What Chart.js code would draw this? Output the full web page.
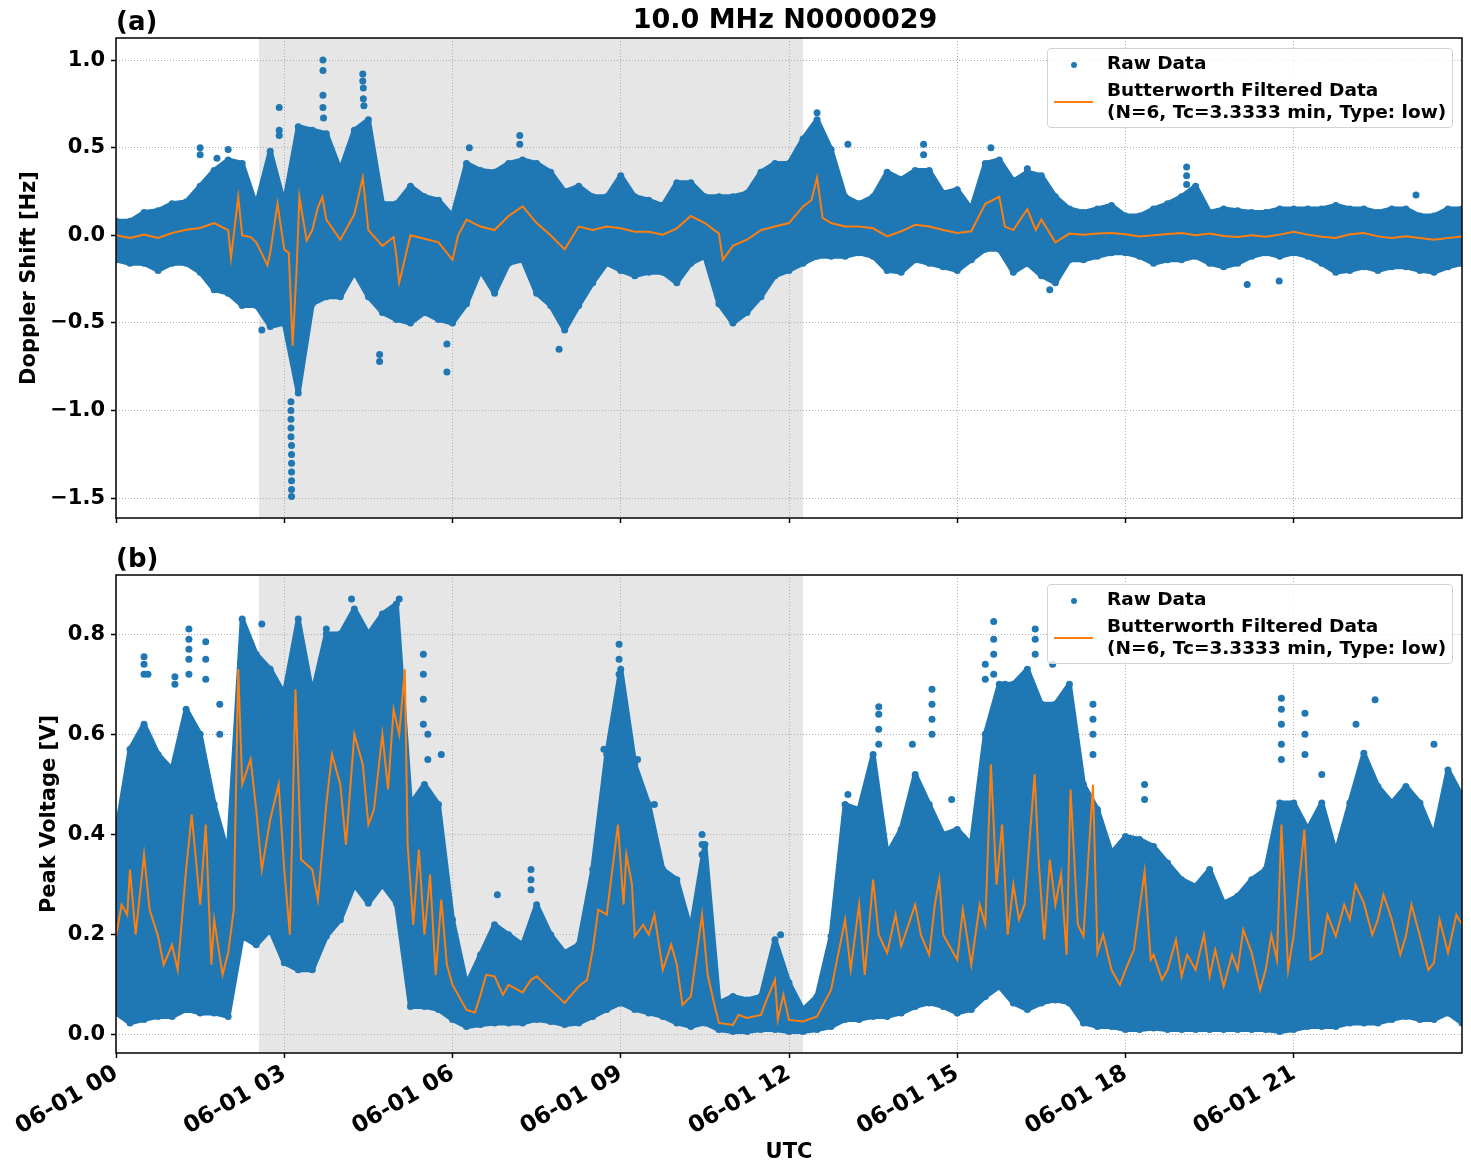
<!DOCTYPE html>
<html>
<head>
<meta charset="utf-8">
<script src="https://cdn.jsdelivr.net/npm/chart.js@4.4.1/dist/chart.umd.min.js"></script>
<style>
  body { margin: 0; background: #fff; width: 1471px; height: 1172px; position: relative; overflow: hidden;
         font-family: 'DejaVu Sans', sans-serif; }
  canvas { position: absolute; left: 0; }
  #chartA { top: 0; }
  #chartB { top: 545px; }
  .legend { position: absolute; left: 1047px; width: 404px; height: 78px; border: 1px solid #d3d3d3;
            border-radius: 4px; background: rgba(255,255,255,0.8); font: bold 18.5px 'DejaVu Sans', sans-serif;
            color: #000; line-height: 22px; }
  .legend .dot { position: absolute; left: 23px; top: 13px; width: 6px; height: 6px; border-radius: 50%; background: #1f77b4; }
  .legend .line { position: absolute; left: 6px; top: 52px; width: 39px; height: 2px; background: #ff7f0e; }
  .legend .t1 { position: absolute; left: 59px; top: 3px; white-space: nowrap; }
  .legend .t2 { position: absolute; left: 59px; top: 30px; white-space: nowrap; }
</style>
</head>
<body>
<canvas id="chartA" width="1471" height="545"></canvas>
<canvas id="chartB" width="1471" height="627"></canvas>

<div class="legend" style="top:48px">
  <div class="dot"></div><div class="t1">Raw Data</div>
  <div class="line"></div><div class="t2">Butterworth Filtered Data<br>(N=6, Tc=3.3333 min, Type: low)</div>
</div>
<div class="legend" style="top:584px">
  <div class="dot"></div><div class="t1">Raw Data</div>
  <div class="line"></div><div class="t2">Butterworth Filtered Data<br>(N=6, Tc=3.3333 min, Type: low)</div>
</div>

<script>
// time axis, hours after 06-01 00 UTC
const xTickHours = [0, 3, 6, 9, 12, 15, 18, 21];
const xTickLabels = ['06-01 00', '06-01 03', '06-01 06', '06-01 09', '06-01 12', '06-01 15', '06-01 18', '06-01 21'];
const shadeStart = 2.55;
const shadeEnd = 12.25;

// 15 min bins for the raw data envelope
const binHours = [
  0,0.25,0.5,0.75,1,1.25,1.5,1.75,2,2.25,2.5,2.75,3,3.25,3.5,3.75,
  4,4.25,4.5,4.75,5,5.25,5.5,5.75,6,6.25,6.5,6.75,7,7.25,7.5,7.75,
  8,8.25,8.5,8.75,9,9.25,9.5,9.75,10,10.25,10.5,10.75,11,11.25,11.5,11.75,
  12,12.25,12.5,12.75,13,13.25,13.5,13.75,14,14.25,14.5,14.75,15,15.25,15.5,15.75,
  16,16.25,16.5,16.75,17,17.25,17.5,17.75,18,18.25,18.5,18.75,19,19.25,19.5,19.75,
  20,20.25,20.5,20.75,21,21.25,21.5,21.75,22,22.25,22.5,22.75,23,23.25,23.5,23.75,24
];

// (a) Doppler shift [Hz]
const dopplerUpper = [
  0.08,0.08,0.13,0.14,0.18,0.19,0.28,0.37,0.43,0.41,0.17,0.48,0.18,0.62,0.60,0.58,
  0.37,0.60,0.66,0.18,0.18,0.28,0.22,0.20,0.11,0.41,0.37,0.36,0.41,0.43,0.41,0.36,
  0.25,0.28,0.22,0.22,0.34,0.22,0.20,0.17,0.30,0.30,0.22,0.22,0.22,0.24,0.36,0.41,
  0.41,0.55,0.66,0.49,0.22,0.18,0.22,0.36,0.32,0.37,0.37,0.24,0.26,0.15,0.41,0.43,
  0.31,0.36,0.34,0.22,0.15,0.13,0.15,0.17,0.11,0.11,0.15,0.18,0.22,0.28,0.13,0.15,
  0.14,0.13,0.13,0.15,0.15,0.15,0.15,0.17,0.15,0.15,0.13,0.15,0.15,0.11,0.11,0.15,0.15
];
const dopplerLower = [
  -0.14,-0.16,-0.16,-0.20,-0.16,-0.16,-0.21,-0.31,-0.33,-0.40,-0.40,-0.52,-0.50,-0.90,-0.39,-0.35,
  -0.35,-0.21,-0.35,-0.44,-0.48,-0.50,-0.44,-0.48,-0.50,-0.39,-0.20,-0.33,-0.16,-0.14,-0.33,-0.40,
  -0.54,-0.40,-0.27,-0.16,-0.20,-0.23,-0.21,-0.21,-0.27,-0.16,-0.12,-0.39,-0.50,-0.44,-0.35,-0.23,
  -0.20,-0.16,-0.12,-0.12,-0.12,-0.10,-0.12,-0.20,-0.21,-0.14,-0.16,-0.18,-0.20,-0.14,-0.08,-0.08,
  -0.21,-0.16,-0.23,-0.27,-0.14,-0.14,-0.12,-0.10,-0.10,-0.12,-0.16,-0.14,-0.14,-0.12,-0.16,-0.18,
  -0.16,-0.12,-0.10,-0.12,-0.10,-0.12,-0.16,-0.21,-0.20,-0.18,-0.20,-0.18,-0.18,-0.20,-0.21,-0.18,-0.16
];
const dopplerOutHours = [
  3.12,3.12,3.12,3.12,3.12,3.13,3.13,3.13,3.13,3.13,3.13,3.13,
  2.91,2.91,2.91, 3.69,3.69,3.69,3.69,3.70, 4.40,4.40,4.41,4.41,4.42,
  1.5,1.5, 1.8, 2.0, 2.6, 4.7,4.7, 5.9,5.9, 6.3, 7.2,7.2, 7.9, 12.5, 13.05,
  14.4,14.4, 15.6, 16.25, 19.09,19.09,19.09, 20.17, 20.74, 16.65, 23.18
];
const dopplerOutValues = [
  -0.95,-1.0,-1.05,-1.1,-1.15,-1.2,-1.25,-1.3,-1.35,-1.4,-1.45,-1.49,
  0.73,0.6,0.57, 1.0,0.94,0.8,0.73,0.67, 0.92,0.88,0.84,0.78,0.74,
  0.5,0.46, 0.44, 0.49, -0.54, -0.72,-0.68, -0.78,-0.62, 0.5, 0.57,0.52, -0.65, 0.7, 0.52,
  0.52,0.46, 0.5, 0.38, 0.39,0.34,0.29, -0.28, -0.26, -0.31, 0.23
];
const dopplerFiltHours = [
  0,0.25,0.5,0.75,1,1.25,1.5,1.75,2,2.05,
  2.18,2.25,2.4,2.5,2.7,2.75,2.88,3,3.08,3.15,
  3.22,3.27,3.4,3.5,3.6,3.68,3.75,4,4.25,4.4,
  4.5,4.75,4.95,5,5.05,5.25,5.5,5.75,6,6.1,
  6.25,6.5,6.75,7,7.25,7.5,7.75,8,8.25,8.5,
  8.75,9,9.25,9.5,9.75,10,10.25,10.5,10.75,10.82,
  11,11.25,11.5,11.75,12,12.25,12.4,12.5,12.6,12.75,
  13,13.25,13.5,13.75,14,14.25,14.5,14.75,15,15.25,
  15.5,15.75,15.85,16,16.25,16.4,16.5,16.75,17,17.25,
  17.5,17.75,18,18.25,18.5,18.75,19,19.25,19.5,19.75,
  20,20.25,20.5,20.75,21,21.25,21.5,21.75,22,22.25,
  22.5,22.75,23,23.25,23.5,23.75,24
];
const dopplerFilt = [
  0,-0.015,0.004,-0.015,0.013,0.032,0.042,0.07,0.03,-0.13,
  0.22,0,-0.01,-0.04,-0.17,-0.1,0.18,-0.08,-0.1,-0.63,
  -0.2,0.22,-0.03,0.03,0.16,0.22,0.09,-0.025,0.12,0.33,
  0.03,-0.06,-0.01,-0.12,-0.27,0,-0.02,-0.04,-0.14,0,
  0.09,0.05,0.03,0.11,0.165,0.07,0,-0.08,0.05,0.03,
  0.05,0.04,0.02,0.02,0.004,0.04,0.11,0.07,0.01,-0.14,
  -0.06,-0.025,0.03,0.05,0.07,0.165,0.2,0.33,0.1,0.07,
  0.05,0.05,0.04,-0.006,0.023,0.06,0.05,0.03,0.013,0.023,
  0.18,0.22,0.05,0.03,0.15,0.03,0.09,-0.04,0.01,0.004,
  0.01,0.013,0.006,-0.006,0,0.008,0.013,0,0.01,-0.004,
  -0.01,0,-0.008,0.004,0.02,0.004,-0.008,-0.015,0.006,0.013,
  -0.006,-0.015,-0.006,-0.015,-0.025,-0.015,-0.006
];
const dopplerTicks = [-1.5, -1.0, -0.5, 0.0, 0.5, 1.0];

// (b) Peak voltage [V]
const voltUpper = [
  0.40,0.57,0.62,0.56,0.53,0.65,0.60,0.46,0.36,0.83,0.76,0.73,0.68,0.83,0.68,0.80,
  0.80,0.85,0.80,0.84,0.86,0.46,0.50,0.46,0.23,0.10,0.16,0.22,0.20,0.18,0.26,0.20,
  0.164,0.18,0.33,0.56,0.73,0.54,0.46,0.33,0.31,0.21,0.38,0.064,0.077,0.07,0.077,0.19,
  0.104,0.05,0.077,0.197,0.46,0.45,0.56,0.36,0.41,0.52,0.46,0.40,0.41,0.38,0.60,0.70,
  0.70,0.73,0.66,0.66,0.70,0.50,0.45,0.363,0.396,0.39,0.376,0.343,0.31,0.297,0.33,0.263,
  0.277,0.31,0.33,0.463,0.463,0.41,0.463,0.363,0.463,0.562,0.496,0.463,0.496,0.463,0.396,0.529,0.476
];
const voltLower = [
  0.044,0.024,0.031,0.037,0.037,0.051,0.044,0.044,0.037,0.197,0.18,0.21,0.144,0.13,0.13,0.197,
  0.23,0.30,0.263,0.30,0.263,0.057,0.057,0.051,0.031,0.017,0.021,0.024,0.024,0.024,0.031,0.027,
  0.021,0.024,0.037,0.051,0.064,0.051,0.044,0.037,0.024,0.017,0.024,0.011,0.007,0.007,0.011,0.011,
  0.007,0.007,0.011,0.017,0.031,0.031,0.037,0.037,0.044,0.057,0.064,0.057,0.044,0.051,0.077,0.097,
  0.064,0.051,0.064,0.07,0.064,0.024,0.017,0.017,0.011,0.011,0.014,0.011,0.011,0.011,0.011,0.011,
  0.011,0.011,0.011,0.007,0.011,0.017,0.017,0.017,0.024,0.024,0.024,0.031,0.037,0.031,0.031,0.044,0.024
];
const voltOutHours = [
  0.5,0.5,0.5, 0.57, 1.05,1.05, 1.3,1.3,1.3,1.3,1.3, 1.6,1.6,1.6, 1.85,1.85, 2.3, 2.6, 3.0, 3.75,
  4.2, 4.55, 5.05, 5.48,5.48,5.48,5.48, 5.56,5.56, 5.8, 6.8, 7.4,7.4,7.4, 8.7, 8.97,8.97,8.97,8.97,
  9.05, 9.3, 9.6, 10.45,10.45,10.45, 11.85, 13.05, 13.6,13.6,13.6,13.6, 14.2, 14.55,14.55,14.55,14.55,
  14.9, 15.5,15.5, 15.65,15.65,15.65,15.65, 15.85, 16.39,16.39,16.39, 16.7, 17.42,17.42,17.42,17.42,
  18.34,18.34, 20.78,20.78,20.78,20.78,20.78, 21.2,21.2,21.2, 21.5, 22.11, 22.45, 23.5, 23.9
];
const voltOutValues = [
  0.755,0.74,0.72, 0.72, 0.715,0.70, 0.81,0.79,0.77,0.75,0.72, 0.785,0.75,0.71, 0.66,0.6, 0.79, 0.82, 0.67, 0.81,
  0.87, 0.78, 0.87, 0.76,0.72,0.67,0.62, 0.6,0.55, 0.56, 0.28, 0.33,0.31,0.29, 0.57, 0.78,0.75,0.72,0.69,
  0.63, 0.55, 0.46, 0.40,0.38,0.36, 0.2, 0.48, 0.655,0.64,0.61,0.58, 0.58, 0.69,0.66,0.63,0.6,
  0.47, 0.74,0.71, 0.825,0.79,0.76,0.72, 0.7, 0.81,0.79,0.76, 0.74, 0.66,0.63,0.6,0.56,
  0.5,0.47, 0.672,0.65,0.62,0.58,0.55, 0.642,0.6,0.56, 0.52, 0.62, 0.669, 0.58, 0.48
];
const voltFiltHours = [
  0,0.1,0.2,0.25,0.35,0.5,0.6,0.75,0.85,1,
  1.1,1.25,1.35,1.5,1.6,1.7,1.75,1.9,2,2.1,
  2.18,2.25,2.4,2.5,2.6,2.75,2.9,3,3.1,3.2,
  3.3,3.5,3.6,3.75,3.85,4,4.1,4.25,4.4,4.5,
  4.6,4.75,4.85,4.95,5.05,5.15,5.2,5.3,5.4,5.5,
  5.6,5.7,5.8,5.9,6,6.1,6.25,6.4,6.5,6.6,
  6.75,6.9,7,7.25,7.4,7.5,7.75,8,8.25,8.4,
  8.5,8.6,8.75,8.85,8.95,9.05,9.1,9.2,9.25,9.4,
  9.5,9.6,9.75,9.9,10,10.1,10.25,10.45,10.55,10.65,
  10.75,11,11.1,11.25,11.5,11.6,11.75,11.8,11.9,12,
  12.25,12.5,12.75,13,13.1,13.25,13.35,13.5,13.6,13.75,
  13.9,14,14.25,14.35,14.5,14.6,14.68,14.75,15,15.1,
  15.25,15.4,15.5,15.6,15.7,15.8,15.9,16,16.1,16.2,
  16.38,16.45,16.55,16.65,16.75,16.85,16.95,17.02,17.15,17.25,
  17.42,17.5,17.6,17.75,17.9,18,18.15,18.34,18.45,18.5,
  18.65,18.75,18.9,19,19.1,19.25,19.4,19.5,19.6,19.75,
  19.9,20,20.1,20.25,20.4,20.5,20.6,20.7,20.78,20.9,
  21,21.19,21.3,21.5,21.6,21.75,21.9,22,22.1,22.25,
  22.4,22.5,22.6,22.75,22.9,23,23.1,23.25,23.4,23.5,
  23.6,23.75,23.9,24
];
const voltFilt = [
  0.197,0.26,0.24,0.33,0.2,0.36,0.25,0.197,0.14,0.18,
  0.13,0.33,0.44,0.26,0.42,0.14,0.23,0.12,0.164,0.25,
  0.73,0.5,0.55,0.45,0.33,0.43,0.5,0.33,0.2,0.69,
  0.35,0.33,0.27,0.46,0.56,0.5,0.38,0.6,0.54,0.42,
  0.45,0.6,0.49,0.65,0.6,0.73,0.38,0.22,0.37,0.2,
  0.32,0.12,0.27,0.14,0.1,0.08,0.05,0.045,0.08,0.12,
  0.117,0.08,0.1,0.085,0.11,0.117,0.09,0.064,0.097,0.11,
  0.17,0.25,0.24,0.33,0.42,0.26,0.36,0.3,0.197,0.22,
  0.2,0.24,0.13,0.18,0.14,0.06,0.077,0.24,0.12,0.07,
  0.024,0.02,0.04,0.034,0.04,0.07,0.11,0.03,0.08,0.03,
  0.027,0.037,0.09,0.23,0.13,0.26,0.12,0.31,0.2,0.164,
  0.24,0.177,0.26,0.2,0.16,0.26,0.31,0.2,0.15,0.25,
  0.14,0.26,0.22,0.54,0.3,0.42,0.2,0.3,0.23,0.26,
  0.52,0.35,0.19,0.35,0.26,0.32,0.16,0.49,0.22,0.197,
  0.5,0.164,0.2,0.13,0.1,0.13,0.17,0.326,0.15,0.16,
  0.11,0.13,0.19,0.117,0.16,0.13,0.2,0.117,0.17,0.097,
  0.16,0.13,0.21,0.164,0.09,0.13,0.2,0.15,0.42,0.13,
  0.2,0.41,0.15,0.164,0.24,0.197,0.26,0.23,0.3,0.263,
  0.2,0.23,0.28,0.23,0.16,0.197,0.26,0.197,0.13,0.144,
  0.23,0.164,0.24,0.22
];
const voltTicks = [0.0, 0.2, 0.4, 0.6, 0.8];

const BLUE = '#1f77b4';
const ORANGE = '#ff7f0e';
const FONT = 'DejaVu Sans';

Chart.defaults.font.family = FONT;
Chart.defaults.color = '#000';

const toPoints = (hs, vs) => hs.map((h, i) => ({ x: h, y: vs[i] }));

// shaded interval, full frame and the texts matplotlib puts around the axes
const panelDecor = {
  id: 'panelDecor',
  beforeDraw(chart) {
    const { ctx, chartArea: a, scales: { x } } = chart;
    const x0 = x.getPixelForValue(shadeStart);
    const x1 = x.getPixelForValue(shadeEnd);
    ctx.save();
    ctx.fillStyle = '#e6e6e6';
    ctx.fillRect(x0, a.top, x1 - x0, a.bottom - a.top);
    ctx.restore();
  },
  afterDraw(chart, args, opts) {
    const { ctx, chartArea: a } = chart;
    ctx.save();
    ctx.strokeStyle = '#000';
    ctx.lineWidth = 1.5;
    ctx.strokeRect(a.left, a.top, a.right - a.left, a.bottom - a.top);

    ctx.fillStyle = '#000';
    ctx.font = `bold 26px '${FONT}'`;
    ctx.textBaseline = 'alphabetic';
    ctx.textAlign = 'left';
    ctx.fillText(opts.letter, a.left, opts.letterY);
    if (opts.title) {
      ctx.font = `bold 27px '${FONT}'`;
      ctx.textAlign = 'center';
      ctx.fillText(opts.title, 785, opts.titleY);
    }
    ctx.font = `bold 21px '${FONT}'`;
    ctx.textAlign = 'center';
    if (opts.xTitle) {
      ctx.fillText(opts.xTitle, (a.left + a.right) / 2, opts.xTitleY);
    }
    ctx.translate(opts.yTitleX, (a.top + a.bottom) / 2);
    ctx.rotate(-Math.PI / 2);
    ctx.fillText(opts.yTitle, 0, 0);
    ctx.restore();
  }
};

function makePanel(canvasId, p) {
  const tickFont = { family: FONT, size: 21, weight: 'bold' };
  return new Chart(document.getElementById(canvasId), {
    type: 'line',
    data: {
      datasets: [
        {
          data: toPoints(binHours, p.upper), fill: '+1', order: 3,
          borderColor: BLUE, backgroundColor: BLUE, borderWidth: 5, borderJoinStyle: 'round',
          pointRadius: 3.5, pointBackgroundColor: BLUE, pointBorderWidth: 0, tension: 0
        },
        {
          data: toPoints(binHours, p.lower), fill: false, order: 2,
          borderColor: BLUE, borderWidth: 5, borderJoinStyle: 'round',
          pointRadius: 3.5, pointBackgroundColor: BLUE, pointBorderWidth: 0, tension: 0
        },
        {
          data: toPoints(p.outHours, p.outValues), showLine: false, order: 1,
          pointRadius: 3.5, pointBackgroundColor: BLUE, pointBorderWidth: 0
        },
        {
          data: toPoints(p.filtHours, p.filt), order: 0,
          borderColor: ORANGE, borderWidth: 2, pointRadius: 0, tension: 0, fill: false
        }
      ]
    },
    options: {
      responsive: false,
      animation: false,
      events: [],
      devicePixelRatio: 1,
      layout: { padding: { top: p.padTop, right: 9, bottom: 0, left: 0 } },
      plugins: {
        legend: { display: false },
        tooltip: { enabled: false },
        panelDecor: p.decor
      },
      scales: {
        x: {
          type: 'linear', min: 0, max: 24,
          afterBuildTicks: (s) => { s.ticks = xTickHours.map(v => ({ value: v })); },
          afterFit: (s) => { s.height = p.xHeight; s.paddingLeft = 0; s.paddingRight = 0; },
          ticks: {
            display: p.showXLabels, autoSkip: false, minRotation: 30, maxRotation: 30, padding: 2,
            font: { family: FONT, size: 23, weight: 'bold' }, color: '#000',
            callback: (v) => xTickLabels[xTickHours.indexOf(v)]
          },
          grid: { color: '#b0b0b0', lineWidth: 1, tickLength: 5, tickColor: '#000', tickWidth: 1.5 },
          border: { display: false, dash: [1, 2] }
        },
        y: {
          min: p.yMin, max: p.yMax,
          afterBuildTicks: (s) => { s.ticks = p.yTicks.map(v => ({ value: v })); },
          afterFit: (s) => { s.width = 116; },
          ticks: {
            padding: 6, font: tickFont, color: '#000',
            callback: (v) => v.toFixed(1).replace('-', '\u2212')
          },
          grid: { color: '#b0b0b0', lineWidth: 1, tickLength: 5, tickColor: '#000', tickWidth: 1.5 },
          border: { display: false, dash: [1, 2] }
        }
      }
    },
    plugins: [panelDecor]
  });
}

makePanel('chartA', {
  upper: dopplerUpper, lower: dopplerLower,
  outHours: dopplerOutHours, outValues: dopplerOutValues,
  filtHours: dopplerFiltHours, filt: dopplerFilt,
  yMin: -1.613, yMax: 1.126, yTicks: dopplerTicks,
  padTop: 38, xHeight: 27, showXLabels: false,
  decor: { letter: '(a)', letterY: 30, title: '10.0 MHz N0000029', titleY: 28,
           yTitle: 'Doppler Shift [Hz]', yTitleX: 35 }
});

makePanel('chartB', {
  upper: voltUpper, lower: voltLower,
  outHours: voltOutHours, outValues: voltOutValues,
  filtHours: voltFiltHours, filt: voltFilt,
  yMin: -0.036, yMax: 0.918, yTicks: voltTicks,
  padTop: 30, xHeight: 119, showXLabels: true,
  decor: { letter: '(b)', letterY: 22, yTitle: 'Peak Voltage [V]', yTitleX: 55,
           xTitle: 'UTC', xTitleY: 613 }
});
</script>
</body>
</html>
